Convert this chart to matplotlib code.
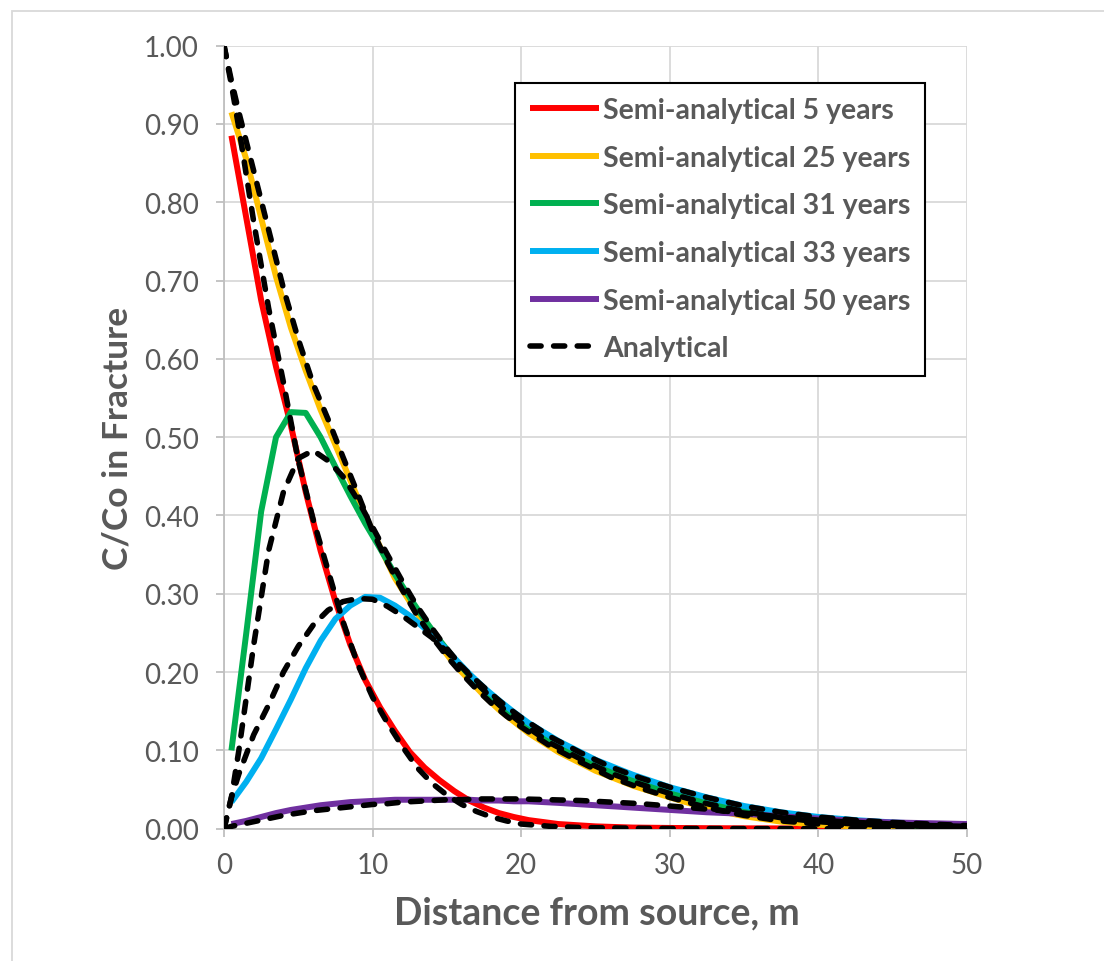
import matplotlib.pyplot as plt
from matplotlib.patches import Rectangle
from matplotlib.ticker import MultipleLocator, FormatStrFormatter

plt.rcParams['font.family'] = ['Lato', 'DejaVu Sans']

# distances used by the semi-analytical runs (m)
x_semi = [0.5, 1.5, 2.5, 3.5, 4.5, 5.5, 6.5, 7.5, 8.5, 9.5, 10.5, 11.5, 12.5, 13.5,
          14.5, 15.5, 16.5, 17.5, 18.5, 19.5, 20.5, 22.5, 25, 27.5, 30, 32.5, 35,
          37.5, 40, 42.5, 45, 47.5, 50]

semi_5 = [0.885, 0.78, 0.675, 0.59, 0.515, 0.43, 0.355, 0.29, 0.235, 0.19, 0.155, 0.125,
          0.098, 0.078, 0.062, 0.048, 0.036, 0.027, 0.020, 0.015, 0.011, 0.006, 0.003,
          0.0015, 0.001, 0.0007, 0.0005, 0.0004, 0.0003, 0.0002, 0.0002, 0.0001, 0.0001]
semi_25 = [0.915, 0.855, 0.78, 0.705, 0.64, 0.585, 0.535, 0.49, 0.445, 0.40, 0.36, 0.32,
           0.29, 0.26, 0.235, 0.21, 0.19, 0.17, 0.152, 0.137, 0.122, 0.098, 0.074, 0.055,
           0.040, 0.026, 0.016, 0.009, 0.005, 0.003, 0.002, 0.001, 0.0005]
semi_31 = [0.10, 0.25, 0.405, 0.50, 0.532, 0.531, 0.50, 0.462, 0.425, 0.39, 0.358, 0.325,
           0.295, 0.267, 0.241, 0.217, 0.196, 0.177, 0.16, 0.144, 0.13, 0.106, 0.081,
           0.062, 0.046, 0.033, 0.023, 0.015, 0.010, 0.007, 0.005, 0.003, 0.002]
semi_33 = [0.034, 0.06, 0.09, 0.127, 0.165, 0.205, 0.24, 0.268, 0.285, 0.296, 0.295,
           0.285, 0.272, 0.256, 0.238, 0.218, 0.198, 0.18, 0.164, 0.149, 0.135, 0.112,
           0.088, 0.069, 0.053, 0.040, 0.029, 0.021, 0.015, 0.011, 0.008, 0.006, 0.004]
semi_50 = [0.006, 0.010, 0.015, 0.020, 0.024, 0.027, 0.030, 0.032, 0.034, 0.035, 0.036,
           0.037, 0.037, 0.037, 0.037, 0.037, 0.037, 0.036, 0.036, 0.035, 0.035, 0.033,
           0.030, 0.027, 0.024, 0.021, 0.019, 0.016, 0.013, 0.010, 0.008, 0.007, 0.006]

# distances for the analytical solution (m)
x_an = [0, 0.5, 1, 2, 3, 4, 5, 6, 7, 8, 9, 10, 11, 12, 13, 14, 15, 16, 17, 18, 19, 20,
        22, 24, 26, 28, 30, 32.5, 35, 37.5, 40, 42.5, 45, 47.5, 50]

an_5 = [1.0, 0.95, 0.895, 0.775, 0.665, 0.57, 0.47, 0.395, 0.33, 0.265, 0.21, 0.168,
        0.135, 0.105, 0.078, 0.058, 0.043, 0.031, 0.022, 0.015, 0.010, 0.006, 0.003,
        0.0015, 0.001, 0.0005, 0.0003, 0.0002, 0.0001, 0.0001, 0, 0, 0, 0, 0]
an_25 = [1.0, 0.955, 0.915, 0.84, 0.765, 0.69, 0.625, 0.568, 0.523, 0.475, 0.428, 0.38,
         0.34, 0.305, 0.272, 0.245, 0.22, 0.198, 0.178, 0.16, 0.144, 0.13, 0.105, 0.085,
         0.066, 0.052, 0.040, 0.027, 0.017, 0.010, 0.006, 0.0035, 0.002, 0.001, 0.0005]
an_31 = [0, 0.04, 0.10, 0.235, 0.355, 0.43, 0.473, 0.483, 0.47, 0.45, 0.42, 0.385, 0.35,
         0.316, 0.284, 0.256, 0.23, 0.207, 0.186, 0.167, 0.15, 0.135, 0.109, 0.089, 0.071,
         0.057, 0.045, 0.032, 0.022, 0.014, 0.009, 0.006, 0.004, 0.003, 0.002]
an_33 = [0, 0.04, 0.07, 0.12, 0.158, 0.20, 0.233, 0.26, 0.279, 0.29, 0.294, 0.293, 0.284,
         0.272, 0.258, 0.244, 0.226, 0.207, 0.189, 0.172, 0.156, 0.142, 0.117, 0.097,
         0.079, 0.065, 0.053, 0.040, 0.029, 0.021, 0.015, 0.011, 0.008, 0.006, 0.004]
an_50 = [0, 0.003, 0.005, 0.009, 0.013, 0.017, 0.020, 0.023, 0.025, 0.027, 0.029, 0.031,
         0.032, 0.034, 0.035, 0.036, 0.037, 0.037, 0.038, 0.038, 0.038, 0.038, 0.037,
         0.036, 0.034, 0.032, 0.029, 0.025, 0.020, 0.015, 0.011, 0.008, 0.006, 0.004, 0.003]

semi_series = [
    ('Semi-analytical 5 years', semi_5, '#FF0000'),
    ('Semi-analytical 25 years', semi_25, '#FFC000'),
    ('Semi-analytical 31 years', semi_31, '#00B050'),
    ('Semi-analytical 33 years', semi_33, '#00B0F0'),
    ('Semi-analytical 50 years', semi_50, '#7030A0'),
]
an_series = [an_5, an_25, an_31, an_33, an_50]

text_grey = '#595959'
dash = (0, (2.0, 2.25))

fig = plt.figure(figsize=(11.04, 9.62), dpi=100)
ax = fig.add_axes([0.2029, 0.1375, 0.673, 0.814])

for label, ys, col in semi_series:
    ax.plot(x_semi, ys, color=col, lw=4.3, label=label, solid_capstyle='butt', zorder=3)

for i, ys in enumerate(an_series):
    ax.plot(x_an, ys, color='black', lw=4.0, ls=dash, dash_capstyle='round',
            label='Analytical' if i == 0 else None, zorder=4)

ax.set_xlim(0, 50)
ax.set_ylim(0, 1.0)
ax.xaxis.set_major_locator(MultipleLocator(10))
ax.yaxis.set_major_locator(MultipleLocator(0.1))
ax.yaxis.set_major_formatter(FormatStrFormatter('%.2f'))
ax.grid(True, color='#D9D9D9', lw=1.3, zorder=0)
ax.set_axisbelow(True)

for side in ['top', 'right']:
    ax.spines[side].set_visible(False)
for side in ['left', 'bottom']:
    ax.spines[side].set_color('#BFBFBF')
    ax.spines[side].set_linewidth(1.3)

ax.tick_params(axis='both', colors='#BFBFBF', labelcolor=text_grey, labelsize=20,
               length=6, width=1.3)
ax.tick_params(axis='y', pad=12)
ax.tick_params(axis='x', pad=11)

ax.set_xlabel('Distance from source, m', fontsize=27, fontweight='bold', color=text_grey)
ax.set_ylabel('C/Co in Fracture', fontsize=25.5, fontweight='bold', color=text_grey)
ax.xaxis.set_label_coords(0.502, -0.085)
ax.yaxis.set_label_coords(-0.122, 0.5)

leg = ax.legend(loc='upper right', bbox_to_anchor=(0.9435, 0.9524), frameon=True,
                fancybox=False, edgecolor='black', framealpha=1,
                prop={'weight': 'bold', 'size': 20.5}, handlelength=2.45,
                handletextpad=0.14, labelspacing=0.76, borderpad=0.5, borderaxespad=0)
leg.get_frame().set_linewidth(1.5)
for t in leg.get_texts():
    t.set_color(text_grey)

# light chart-area border
fig.patches.append(Rectangle((0.011, -0.05), 1.2, 1.0375, transform=fig.transFigure,
                             fill=False, edgecolor='#D9D9D9', lw=1.3))

fig.savefig('out.png', dpi=100)
